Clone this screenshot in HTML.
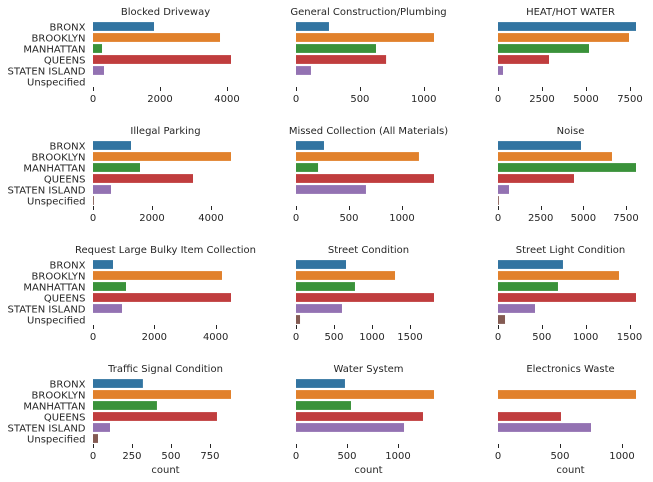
<!DOCTYPE html>
<html>
<head>
<meta charset="utf-8">
<title>Complaint counts by borough</title>
<style>
html,body{margin:0;padding:0;background:#fff;}
svg{display:block;}
text{font-family:"DejaVu Sans","Liberation Sans",sans-serif;font-size:10px;fill:#262626;}
</style>
</head>
<body>
<svg id="chart" xmlns="http://www.w3.org/2000/svg" width="653" height="482" viewBox="0 0 653 482"></svg>
<script>
const categories = ["BRONX","BROOKLYN","MANHATTAN","QUEENS","STATEN ISLAND","Unspecified"];
const colors = ["#3274a1","#e1812c","#3a923a","#c03d3e","#9372b2","#845b53"];
const titles = ["Blocked Driveway","General Construction/Plumbing","HEAT/HOT WATER","Illegal Parking","Missed Collection (All Materials)","Noise","Request Large Bulky Item Collection","Street Condition","Street Light Condition","Traffic Signal Condition","Water System","Electronics Waste"];
const blockedDriveway = [1821,3791,269,4119,328,0];
const generalConstruction = [258,1080,626,705,117,0];
const heatHotWater = [7840,7443,5170,2898,284,0];
const illegalParking = [1288,4678,1593,3390,610,30];
const missedCollection = [264,1160,208,1302,660,0];
const noise = [4862,6678,8085,4452,644,50];
const bulkyItem = [652,4206,1076,4500,946,0];
const streetCondition = [658,1303,776,1816,605,53];
const streetLight = [741,1380,684,1574,422,80];
const trafficSignal = [320,885,410,795,109,32];
const waterSystem = [480,1353,539,1245,1059,0];
const electronicsWaste = [0,1113,0,508,750,0];
const panelValues = [blockedDriveway,generalConstruction,heatHotWater,illegalParking,missedCollection,noise,bulkyItem,streetCondition,streetLight,trafficSignal,waterSystem,electronicsWaste];
const ticks2000 = [0,2000,4000];
const ticks500 = [0,500,1000];
const ticks2500 = [0,2500,5000,7500];
const ticks500to1500 = [0,500,1000,1500];
const ticks250 = [0,250,500,750];
const panelTicks = [ticks2000,ticks500,ticks2500,ticks2000,ticks500,ticks2500,ticks2000,ticks500to1500,ticks500to1500,ticks250,ticks500,ticks500];
const xAxisLabel = "count";

const svg = document.getElementById('chart');
const NS = 'http://www.w3.org/2000/svg';
const colLeft = [93,296,498];
const plotWidth = 138;
const axesWidth = 145;
const firstTop = 21;
const rowStep = 119;
const bandHeight = 11;
const barFill = 0.8;

function make(tag, attrs, parent) {
  const el = document.createElementNS(NS, tag);
  for (const k in attrs) el.setAttribute(k, attrs[k]);
  parent.appendChild(el);
  return el;
}

titles.forEach(function (title, p) {
  const col = p % 3;
  const row = Math.floor(p / 3);
  const left = colLeft[col];
  const top = firstTop + row * rowStep;
  const bottom = top + bandHeight * categories.length;
  const values = panelValues[p];
  const xMax = Math.max.apply(null, values);
  const xScale = function (v) { return left + v / xMax * plotWidth; };
  const yScale = function (i) { return top + i * bandHeight; };
  const slug = title.toLowerCase().replace(/[^a-z0-9]+/g, '-').replace(/-$/, '');

  const group = make('g', {}, svg);
  
  

  const titleEl = make('text', {x: left + axesWidth / 2, y: top - 6, 'text-anchor': 'middle'}, group);
  titleEl.textContent = title;
  
  

  values.forEach(function (v, i) {
    if (v <= 0) return;
    const bar = make('rect', {
      x: left,
      y: yScale(i) + bandHeight * (1 - barFill) / 2,
      width: xScale(v) - left,
      height: bandHeight * barFill,
      fill: colors[i]
    }, group);
    
    
  });

  if (col === 0) {
    categories.forEach(function (c, i) {
      const label = make('text', {x: 85.5, y: yScale(i) + bandHeight / 2 + 4, 'text-anchor': 'end'}, group);
      label.textContent = c;
      
      
    });
  }

  panelTicks[p].forEach(function (t) {
    const x = xScale(t);
    const sx = Math.round(x) + 0.5;
    const mark = make('line', {x1: sx, x2: sx, y1: bottom, y2: bottom + 4, stroke: '#262626', 'stroke-width': 1}, group);
    
    
    const label = make('text', {x: x, y: bottom + 15, 'text-anchor': 'middle'}, group);
    label.textContent = String(t);
    
    
  });

  if (row === 3) {
    const axisTitle = make('text', {x: left + axesWidth / 2, y: bottom + 29, 'text-anchor': 'middle'}, group);
    axisTitle.textContent = xAxisLabel;
    
    
  }
});
</script>
</body>
</html>
